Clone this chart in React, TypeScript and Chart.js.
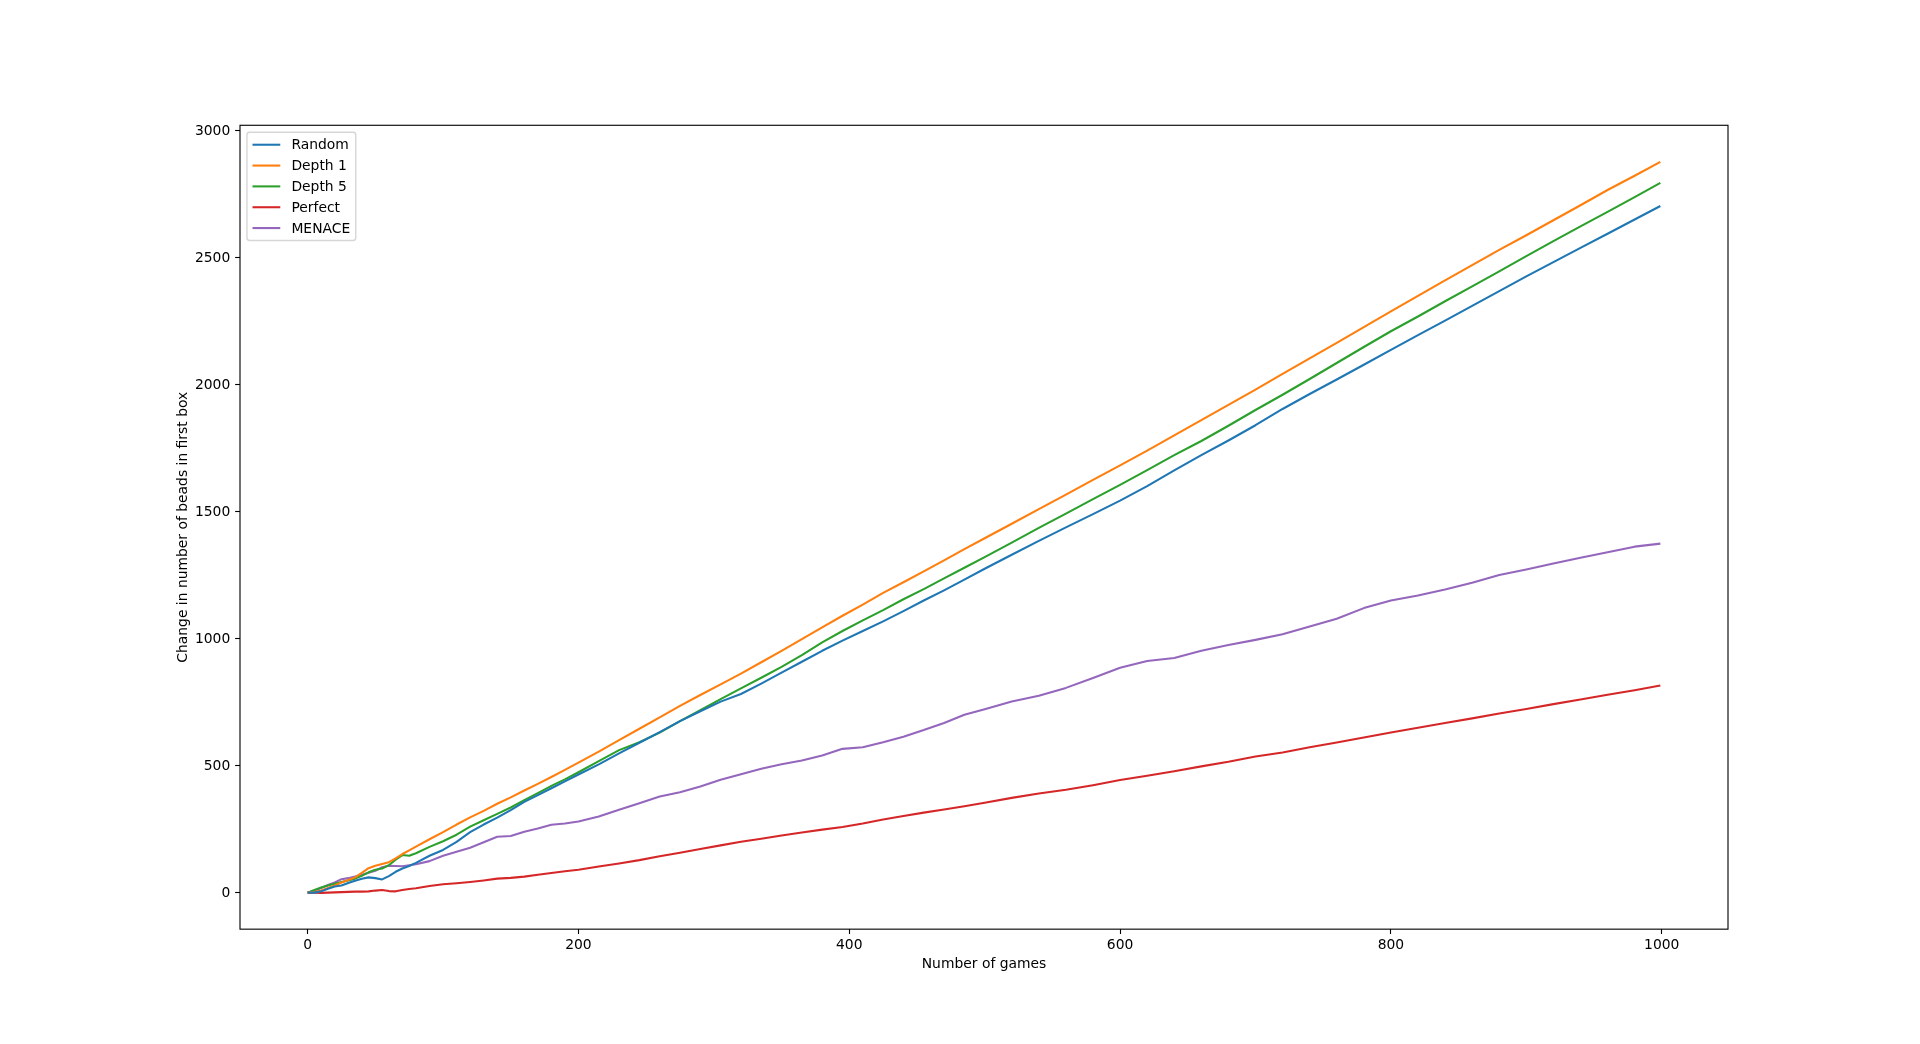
import React, { useEffect, useRef } from "react";
import { Chart, registerables } from "chart.js";

Chart.register(...registerables);

// ---- data ----
const games = [
  0, 5, 10, 15, 20, 25, 30, 35, 40, 45, 50, 55, 60, 65, 70, 75, 80,
  90, 100, 110, 120, 130, 140, 150, 160, 170, 180, 190, 200,
  215, 230, 245, 260, 275, 290, 305, 320, 335, 350, 365, 380, 395, 410, 425, 440, 455, 470, 485, 500,
  520, 540, 560, 580, 600, 620, 640, 660, 680, 700, 720, 740, 760, 780, 800, 820, 840, 860, 880, 900, 920, 940, 960, 980,
  999,
];

const randomValues = [
  0, 0, 5, 15, 24, 28, 38, 47, 55, 60, 57, 52, 65, 82, 95, 105, 117,
  145, 168, 200, 238, 268, 295, 325, 357, 384, 411, 438, 465,
  505, 548, 590, 632, 675, 714, 752, 782, 823, 866, 909, 952, 992, 1030, 1068, 1108, 1150, 1190, 1232, 1275,
  1330, 1385, 1438, 1490, 1543, 1600, 1662, 1722, 1780, 1840, 1904, 1963, 2020, 2078, 2137, 2195, 2252, 2310, 2368, 2426, 2482, 2538, 2594, 2650,
  2703,
];

const depth1Values = [
  0, 2, 8, 18, 28, 40, 50, 60, 78, 96, 106, 113, 120, 135, 152, 166, 181,
  210, 238, 268, 296, 322, 350, 375, 402, 428, 455, 483, 512,
  555, 600, 645, 690, 735, 778, 820, 862, 907, 952, 998, 1044, 1090, 1134, 1180, 1222, 1265, 1308, 1352, 1395,
  1452, 1510, 1567, 1625, 1682, 1740, 1800, 1860, 1920, 1980, 2042, 2103, 2164, 2226, 2288, 2349, 2410, 2470, 2530, 2588, 2647, 2706, 2766, 2822,
  2877,
];

const depth5Values = [
  0, 10, 20, 28, 35, 42, 48, 55, 66, 80, 90, 95, 108, 130, 148, 145, 155,
  180, 202, 228, 260, 285, 310, 335, 364, 392, 420, 446, 474,
  518, 561, 592, 630, 675, 718, 762, 804, 846, 889, 935, 985, 1030, 1072, 1112, 1155, 1195, 1237, 1279, 1321,
  1378, 1436, 1492, 1549, 1605, 1663, 1722, 1778, 1838, 1900, 1960, 2022, 2085, 2148, 2210, 2268, 2328, 2387, 2446, 2506, 2565, 2623, 2680, 2738,
  2794,
];

const perfectValues = [
  0, 0, -1, 0, 1, 2, 3, 4, 4, 5, 8, 10, 6, 5, 10, 14, 17,
  26, 33, 37, 42, 48, 55, 58, 63, 70, 77, 84, 90,
  103, 115, 128, 143, 157, 172, 186, 200, 212, 225, 237, 248, 258, 272, 288, 302, 315, 327, 340, 354,
  373, 390, 405, 423, 443, 460, 478, 497, 515, 536, 552, 572, 591, 611, 630, 649, 668, 686, 705, 723, 742, 760, 779, 797,
  815,
];

const menaceValues = [
  0, 7, 18, 30, 40, 53, 57, 63, 70, 78, 86, 100, 106, 105, 104, 108, 112,
  124, 145, 161, 177, 198, 220, 223, 240, 252, 267, 272, 280,
  300, 326, 352, 378, 395, 418, 444, 466, 488, 505, 520, 540, 566, 572, 592, 614, 640, 668, 700, 722,
  752, 775, 806, 845, 885, 912, 924, 952, 975, 995, 1017, 1048, 1078, 1120, 1150, 1170, 1193, 1220, 1250, 1272, 1296, 1318, 1340, 1362,
  1374,
];

const seriesLabels = ["Random", "Depth 1", "Depth 5", "Perfect", "MENACE"];
const seriesValues = [randomValues, depth1Values, depth5Values, perfectValues, menaceValues];
const seriesColors = ["#1f77b4", "#ff7f0e", "#2ca02c", "#d62728", "#9467bd"];

const xTicks = [0, 200, 400, 600, 800, 1000];
const yTicks = [0, 500, 1000, 1500, 2000, 2500, 3000];
const xTitle = "Number of games";
const yTitle = "Change in number of beads in first box";

// ---- layout constants (matplotlib default 19.2x10.44in @100dpi) ----
const W = 1920;
const H = 1044;
const AX_LEFT = 240;
const AX_RIGHT = 1728;
const AX_TOP = 125.28;
const AX_BOTTOM = 929.16;
const FS = 13.89;
const FONT_FAMILY = "'DejaVu Sans', 'Liberation Sans', sans-serif";

const overlayPlugin = {
  id: "mplOverlay",
  afterDatasetsDraw(chart: any) {
    const { ctx, chartArea: a } = chart;
    ctx.save();

    // axes frame
    ctx.strokeStyle = "#000";
    ctx.lineWidth = 1.11;
    ctx.strokeRect(a.left, a.top, a.right - a.left, a.bottom - a.top);

    // axis titles
    ctx.fillStyle = "#000";
    ctx.font = `${FS}px ${FONT_FAMILY}`;
    ctx.textAlign = "center";
    ctx.textBaseline = "alphabetic";
    ctx.fillText(xTitle, (a.left + a.right) / 2, 968.4);
    ctx.save();
    ctx.translate(186.5, (a.top + a.bottom) / 2);
    ctx.rotate(-Math.PI / 2);
    ctx.fillText(yTitle, 0, 0);
    ctx.restore();

    // legend
    const pad = 0.4 * FS;
    const handleLen = 2 * FS;
    const textPad = 0.8 * FS;
    const rowGap = 0.5 * FS;
    const rowH = FS;
    const x0 = a.left + 0.5 * FS;
    const y0 = a.top + 0.5 * FS;
    const datasets = chart.data.datasets;
    let maxW = 0;
    datasets.forEach((d: any) => {
      maxW = Math.max(maxW, ctx.measureText(d.label).width);
    });
    const boxW = pad + handleLen + textPad + maxW + pad;
    const boxH = 2 * pad + datasets.length * rowH + (datasets.length - 1) * rowGap;
    const r = 0.2 * FS;
    ctx.beginPath();
    ctx.moveTo(x0 + r, y0);
    ctx.lineTo(x0 + boxW - r, y0);
    ctx.arcTo(x0 + boxW, y0, x0 + boxW, y0 + r, r);
    ctx.lineTo(x0 + boxW, y0 + boxH - r);
    ctx.arcTo(x0 + boxW, y0 + boxH, x0 + boxW - r, y0 + boxH, r);
    ctx.lineTo(x0 + r, y0 + boxH);
    ctx.arcTo(x0, y0 + boxH, x0, y0 + boxH - r, r);
    ctx.lineTo(x0, y0 + r);
    ctx.arcTo(x0, y0, x0 + r, y0, r);
    ctx.closePath();
    ctx.fillStyle = "rgba(255,255,255,0.8)";
    ctx.fill();
    ctx.strokeStyle = "rgba(204,204,204,0.8)";
    ctx.lineWidth = 1.39;
    ctx.stroke();

    ctx.textAlign = "left";
    datasets.forEach((d: any, i: number) => {
      const cy = y0 + pad + i * (rowH + rowGap) + rowH / 2;
      ctx.strokeStyle = d.borderColor;
      ctx.lineWidth = 2.08;
      ctx.lineCap = "butt";
      ctx.beginPath();
      ctx.moveTo(x0 + pad, cy);
      ctx.lineTo(x0 + pad + handleLen, cy);
      ctx.stroke();
      ctx.fillStyle = "#000";
      ctx.fillText(d.label, x0 + pad + handleLen + textPad, cy + 4.6);
    });

    ctx.restore();
  },
};

export default function App() {
  const canvasRef = useRef<HTMLCanvasElement | null>(null);

  useEffect(() => {
    document.body.style.margin = "0";
    const canvas = canvasRef.current;
    if (!canvas) return;

    const datasets = seriesLabels.map((label, i) => ({
      label,
      data: games.map((g, j) => ({ x: g, y: seriesValues[i][j] })),
      borderColor: seriesColors[i],
      backgroundColor: seriesColors[i],
      borderWidth: 2.08,
      pointRadius: 0,
      tension: 0,
      fill: false,
      borderJoinStyle: "round" as const,
    }));

    const tickFont = { family: FONT_FAMILY, size: FS };

    const chart = new Chart(canvas, {
      type: "line",
      data: { datasets },
      options: {
        responsive: false,
        animation: false,
        devicePixelRatio: 1,
        layout: {
          padding: { left: 0, top: AX_TOP, right: W - AX_RIGHT, bottom: 0 },
        },
        plugins: {
          legend: { display: false },
          tooltip: { enabled: false },
          title: { display: false },
        },
        scales: {
          x: {
            type: "linear",
            min: -49.95,
            max: 1048.95,
            afterBuildTicks: (s: any) => {
              s.ticks = xTicks.map((v) => ({ value: v }));
            },
            afterFit: (s: any) => {
              s.height = H - AX_BOTTOM;
            },
            grid: {
              display: true,
              drawOnChartArea: false,
              drawTicks: true,
              tickLength: 4.86,
              tickWidth: 1.11,
              tickColor: "#000",
              color: "#000",
            },
            border: { display: false },
            ticks: {
              color: "#000",
              font: tickFont,
              padding: 3,
              maxRotation: 0,
              autoSkip: false,
              callback: (v: any) => String(v),
            },
          },
          y: {
            type: "linear",
            min: -143.85,
            max: 3020.85,
            afterBuildTicks: (s: any) => {
              s.ticks = yTicks.map((v) => ({ value: v }));
            },
            afterFit: (s: any) => {
              s.width = AX_LEFT;
            },
            grid: {
              display: true,
              drawOnChartArea: false,
              drawTicks: true,
              tickLength: 4.86,
              tickWidth: 1.11,
              tickColor: "#000",
              color: "#000",
            },
            border: { display: false },
            ticks: {
              color: "#000",
              font: tickFont,
              padding: 4.86,
              labelOffset: 1,
              autoSkip: false,
              callback: (v: any) => String(v),
            },
          },
        },
      },
      plugins: [overlayPlugin],
    });

    return () => chart.destroy();
  }, []);

  return (
    <div style={{ position: "fixed", left: 0, top: 0, width: W, height: H, background: "#fff" }}>
      <canvas ref={canvasRef} width={W} height={H} style={{ display: "block", width: W, height: H }} />
    </div>
  );
}
